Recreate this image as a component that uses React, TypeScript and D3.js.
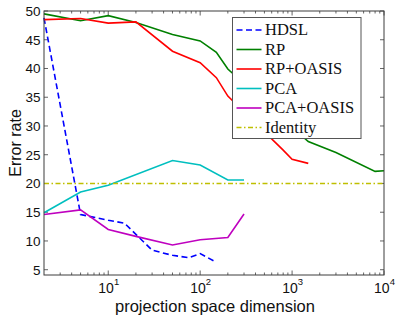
import React from "react";
import * as d3 from "d3";

const W = 399;
const H = 316;
const M = { left: 44, right: 384, top: 11, bottom: 275 };

// Data: [dimension, error rate]
const hdslDims = [2, 5, 10, 15, 30, 50, 75, 100, 150];
const hdslVals = [48.8, 14.6, 13.6, 13.1, 8.4, 7.5, 7.1, 7.8, 6.3];

const rpDims = [2, 5, 10, 20, 50, 100, 150, 200, 1500, 3000, 8000, 10000];
const rpVals = [49.5, 48.3, 49.2, 48.0, 45.9, 44.8, 42.8, 39.9, 27.3, 25.4, 22.1, 22.2];

const rpOasisDims = [2, 5, 10, 20, 50, 100, 150, 200, 800, 1000, 1500];
const rpOasisVals = [48.5, 48.7, 47.9, 48.1, 43.0, 41.0, 38.4, 35.2, 25.8, 24.2, 23.5];

const pcaDims = [2, 5, 10, 50, 100, 200, 300];
const pcaVals = [14.9, 18.5, 19.7, 24.0, 23.2, 20.6, 20.6];

const pcaOasisDims = [2, 5, 10, 20, 50, 100, 200, 300];
const pcaOasisVals = [14.6, 15.4, 12.0, 10.8, 9.3, 10.2, 10.6, 14.7];

const identityDims = [2, 10000];
const identityVals = [20, 20];

const yTicks = [5, 10, 15, 20, 25, 30, 35, 40, 45, 50];
const xMajor = [10, 100, 1000, 10000];
const xExponents = ["1", "2", "3", "4"];

const seriesNames = ["HDSL", "RP", "RP+OASIS", "PCA", "PCA+OASIS", "Identity"];
const seriesColors = ["#0000ff", "#008000", "#ff0000", "#00bfbf", "#bf00bf", "#bfbf00"];
const seriesDash = ["6,3.5", "", "", "", "", "5,2.5,1.5,2.5"];

export default function App() {
  const x = d3.scaleLog().domain([2, 10000]).range([M.left, M.right]);
  const y = d3.scaleLinear().domain([4.08, 50]).range([M.bottom, M.top]);

  const series = [
    [hdslDims, hdslVals],
    [rpDims, rpVals],
    [rpOasisDims, rpOasisVals],
    [pcaDims, pcaVals],
    [pcaOasisDims, pcaOasisVals],
    [identityDims, identityVals],
  ];

  const line = d3
    .line<[number, number]>()
    .x((d) => x(d[0]))
    .y((d) => y(d[1]));

  const minor: number[] = [];
  for (let dec = 1; dec <= 1000; dec *= 10) {
    for (let k = 2; k <= 9; k++) {
      const v = k * dec;
      if (v > 2 && v < 10000 && !xMajor.includes(v)) minor.push(v);
    }
  }

  const axisColor = "#3c3c3c";
  const sans = "'Liberation Sans', Arial, Helvetica, sans-serif";
  const serif = "'Liberation Serif', 'DejaVu Serif', serif";

  const leg = { x: 232.5, y: 17.5, w: 128.5, h: 121 };
  const legRowY = (i: number) => 30 + i * 19.5;

  return (
    <svg
      width={W}
      height={H}
      style={{ position: "absolute", left: 0, top: 0, background: "#fff" }}
    >
      <rect x={0} y={0} width={W} height={H} fill="#fff" />
      {/* ticks */}
      <g stroke={axisColor} strokeWidth={0.8}>
        {yTicks.map((t) => (
          <g key={"yt" + t}>
            <line x1={M.left} x2={M.left + 4} y1={y(t)} y2={y(t)} />
            <line x1={M.right} x2={M.right - 4} y1={y(t)} y2={y(t)} />
          </g>
        ))}
        {xMajor.map((t) => (
          <g key={"xt" + t}>
            <line x1={x(t)} x2={x(t)} y1={M.bottom} y2={M.bottom - 4.5} />
            <line x1={x(t)} x2={x(t)} y1={M.top} y2={M.top + 4.5} />
          </g>
        ))}
        {minor.map((t) => (
          <g key={"xm" + t}>
            <line x1={x(t)} x2={x(t)} y1={M.bottom} y2={M.bottom - 2.5} />
            <line x1={x(t)} x2={x(t)} y1={M.top} y2={M.top + 2.5} />
          </g>
        ))}
      </g>
      {/* series lines */}
      {series.map(([ds, vs], i) => {
        const pts = ds.map((d, j) => [d, vs[j]] as [number, number]);
        return (
          <path
            key={seriesNames[i]}
            d={line(pts) || ""}
            fill="none"
            stroke={seriesColors[i]}
            strokeWidth={1.6}
            strokeDasharray={seriesDash[i] || undefined}
          />
        );
      })}
      {/* frame */}
      <rect
        x={M.left}
        y={M.top}
        width={M.right - M.left}
        height={M.bottom - M.top}
        fill="none"
        stroke={axisColor}
        strokeWidth={1}
      />
      {/* y labels */}
      <g fontFamily={sans} fontSize={13.5} fill="#111">
        {yTicks.map((t) => (
          <text key={"yl" + t} x={40.5} y={y(t)} dy="0.36em" textAnchor="end">
            {t}
          </text>
        ))}
      </g>
      {/* x labels */}
      <g fontFamily={sans} fontSize={14} fill="#111">
        {xMajor.map((t, i) => (
          <text key={"xl" + t} x={x(t) + 0.5} y={293.3} textAnchor="middle">
            10
            <tspan fontSize={9.5} dy={-8}>
              {xExponents[i]}
            </tspan>
          </text>
        ))}
      </g>
      <text
        x={(M.left + M.right) / 2 + 1}
        y={311.5}
        textAnchor="middle"
        fontFamily={sans}
        fontSize={16.5}
        fill="#111"
      >
        projection space dimension
      </text>
      <text
        transform={`translate(20.5,${(M.top + M.bottom) / 2}) rotate(-90)`}
        textAnchor="middle"
        fontFamily={sans}
        fontSize={16}
        fill="#111"
      >
        Error rate
      </text>
      {/* legend */}
      <rect
        x={leg.x}
        y={leg.y}
        width={leg.w}
        height={leg.h}
        fill="#fff"
        stroke="#555"
        strokeWidth={1}
      />
      {seriesNames.map((n, i) => (
        <g key={"lg" + n}>
          <line
            x1={236.5}
            x2={261.5}
            y1={legRowY(i)}
            y2={legRowY(i)}
            stroke={seriesColors[i]}
            strokeWidth={1.6}
            strokeDasharray={seriesDash[i] || undefined}
          />
          <text
            x={265}
            y={legRowY(i) + 5}
            fontFamily={serif}
            fontSize={16.5}
            fill="#111"
          >
            {n}
          </text>
        </g>
      ))}
    </svg>
  );
}
